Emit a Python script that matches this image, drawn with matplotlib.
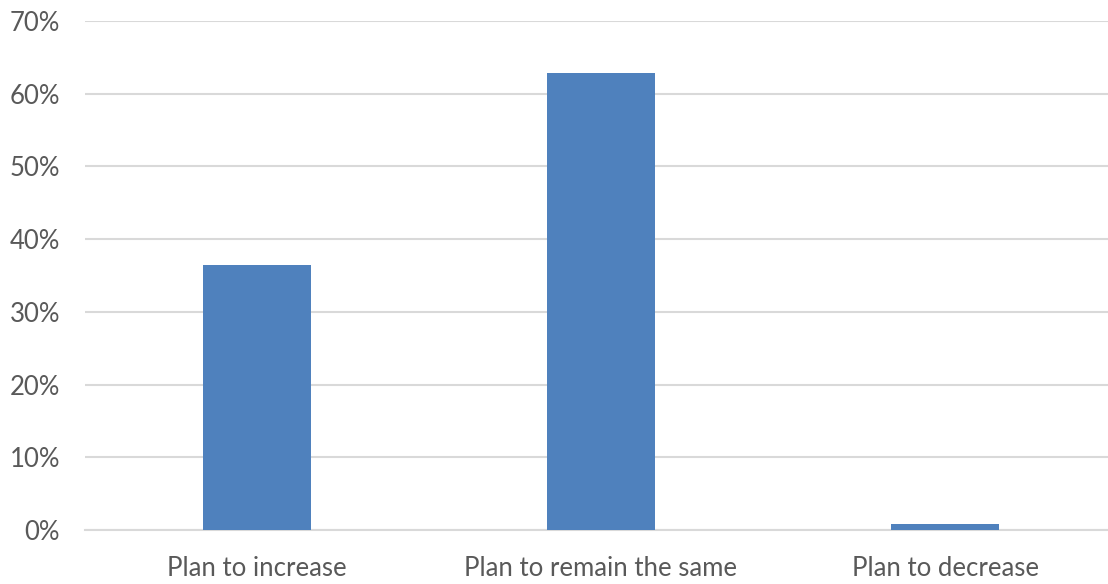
import matplotlib
matplotlib.use("Agg")
import matplotlib.pyplot as plt
from matplotlib.ticker import PercentFormatter

categories = ["Plan to increase", "Plan to remain the same", "Plan to decrease"]
values = [36.4, 62.8, 0.8]
yticks = [0, 10, 20, 30, 40, 50, 60, 70]

plt.rcParams['font.family'] = ['Lato', 'DejaVu Sans']

W, H = 1108, 584
fig = plt.figure(figsize=(W/100, H/100), dpi=100)
ax = fig.add_axes([85/W, (H-530)/H, 1032/W, 509/H])

x = range(len(categories))
ax.bar(x, values, width=0.314, color="#4F81BD", zorder=3)

ax.set_xlim(-0.5, 2.5)
ax.set_ylim(0, 70)
ax.set_yticks(yticks)
ax.yaxis.set_major_formatter(PercentFormatter(decimals=0))
ax.set_xticks(list(x))
ax.set_xticklabels(categories)

ax.grid(axis='y', color="#D9D9D9", linewidth=1.5, zorder=0)
for s in ['top', 'right', 'left']:
    ax.spines[s].set_visible(False)
ax.spines['bottom'].set_color("#D9D9D9")
ax.spines['bottom'].set_linewidth(1.5)
ax.tick_params(axis='both', length=0, labelsize=18.5, labelcolor="#595959")
ax.tick_params(axis='y', pad=18)
ax.tick_params(axis='x', pad=19)

fig.savefig("out.png", dpi=100)
